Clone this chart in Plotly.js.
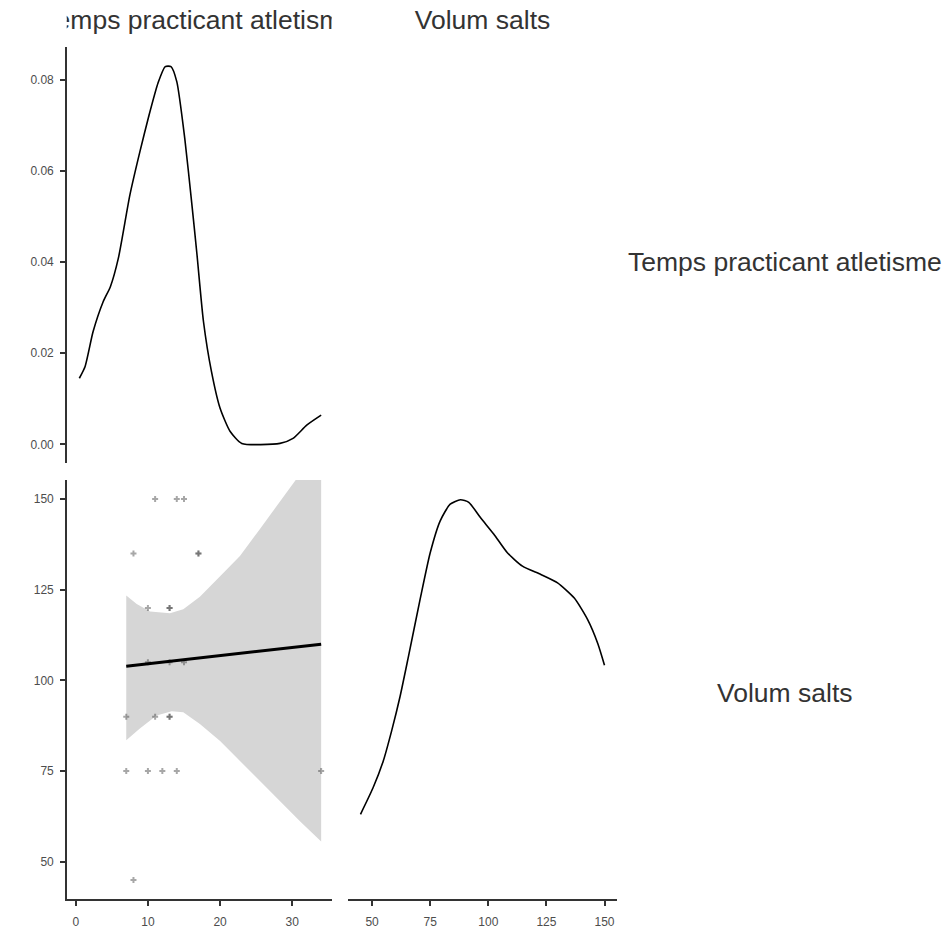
<!DOCTYPE html>
<html>
<head>
<meta charset="utf-8">
<script src="https://cdn.plot.ly/plotly-3.0.1.min.js"></script>
<style>
  html, body { margin: 0; padding: 0; background: #ffffff; }
  #chart { width: 945px; height: 939px; }
</style>
</head>
<body>
<div id="chart"></div>
<script>
// Variable names
const varNames = ['Temps practicant atletisme', 'Volum salts'];

// Tick labels
const timeTicks = [0, 10, 20, 30];
const volTicks = [50, 75, 100, 125, 150];
const densTicks = [0, 0.02, 0.04, 0.06, 0.08];
const densTickText = ['0.00', '0.02', '0.04', '0.06', '0.08'];

// Density of "Temps practicant atletisme" (density units)
const timeDensX = [0.5, 1.3, 2.4, 3.8, 4.8, 5.9, 7.5, 8.9, 10.1, 11.4, 12.4, 13.2, 14.0, 15.1, 16.1, 16.8, 17.7, 18.8, 20.0, 21.4, 23.0, 28.3, 30.1, 32.0, 34.0];
const timeDensY = [0.0145, 0.0171, 0.0247, 0.0313, 0.0346, 0.0408, 0.0547, 0.0643, 0.0719, 0.0793, 0.0829, 0.0829, 0.0796, 0.0672, 0.0525, 0.0416, 0.0269, 0.0160, 0.0079, 0.0028, 0.0002, 0.0002, 0.0013, 0.0042, 0.0064];

// Density of "Volum salts", drawn on the row's scale
const volDensX = [45, 50.4, 54.8, 58.4, 62.0, 65.6, 70.6, 75.0, 79.3, 83.6, 88.0, 91.6, 96.6, 102.4, 108.2, 114.7, 122.6, 129.8, 137.0, 142.8, 147.1, 150];
const volDensY = [63.1, 70.4, 77.8, 86.1, 95.5, 106.5, 122.2, 135.2, 144.0, 148.6, 149.8, 149.1, 144.9, 140.3, 135.2, 131.5, 129.2, 126.9, 122.7, 116.7, 110.2, 104.2];

// Observations
const obsTime = [11, 14, 15, 8, 17, 17, 10, 13, 13, 10, 13, 15, 7, 11, 13, 13, 7, 10, 12, 14, 34, 8];
const obsVol = [150, 150, 150, 135, 135, 135, 120, 120, 120, 105, 105, 105, 90, 90, 90, 90, 75, 75, 75, 75, 75, 45];

// Linear fit and its confidence band
const fitX = [7, 34];
const fitY = [103.9, 110.0];
const bandLowerX = [7, 8.8, 11.2, 13.3, 14.9, 17.2, 20.0, 22.75, 25.5, 28.3, 31.1, 34];
const bandLowerY = [83.5, 86.6, 90.3, 91.5, 91.2, 88.0, 83.3, 77.8, 72.2, 66.7, 61.1, 55.6];
const bandUpperX = [7, 8.45, 10.3, 13.06, 14.9, 17.2, 20.0, 22.75, 25.5, 27.8, 30.6, 34];
const bandUpperY = [123.4, 121.1, 119.0, 118.5, 119.6, 123.1, 128.7, 134.3, 141.7, 148.1, 155.6, 164.4];

// Panel ranges
const timeRange = [-1.25, 35.46];
const volRange = [39.75, 155.25];
const densRange = [-0.0041, 0.0872];

const W = 945, H = 939;
const px = v => v / W;
const py = v => 1 - v / H;

const colLeft = [px(66.7), px(331.7)];
const colRight = [px(348.3), px(616.7)];
const rowTop = [py(463), py(47)];
const rowBottom = [py(899), py(480)];

const font = 'Liberation Sans, Arial, sans-serif';
const tickFont = { family: font, size: 12, color: '#4d4d4d' };
const stripFont = { family: font, size: 26.5, color: '#333333' };
const axisCol = '#333333';

// Band polygon: upper edge left to right, lower edge right to left
const bandX = bandUpperX.concat(bandLowerX.slice().reverse());
const bandY = bandUpperY.concat(bandLowerY.slice().reverse());

const traces = [
  {
    x: timeDensX, y: timeDensY, xaxis: 'x', yaxis: 'y',
    type: 'scatter', mode: 'lines',
    line: { color: '#000000', width: 1.6, shape: 'spline', smoothing: 0.6 }
  },
  {
    x: bandX, y: bandY, xaxis: 'x2', yaxis: 'y2',
    type: 'scatter', mode: 'lines', fill: 'toself',
    fillcolor: '#d6d6d6', line: { width: 0, color: 'rgba(0,0,0,0)' }
  },
  {
    x: obsTime, y: obsVol, xaxis: 'x2', yaxis: 'y2',
    type: 'scatter', mode: 'markers',
    marker: { symbol: 'cross', size: 5, color: 'rgba(60,60,60,0.45)', line: { width: 0 } }
  },
  {
    x: fitX, y: fitY, xaxis: 'x2', yaxis: 'y2',
    type: 'scatter', mode: 'lines',
    line: { color: '#000000', width: 3 }
  },
  {
    x: volDensX, y: volDensY, xaxis: 'x3', yaxis: 'y3',
    type: 'scatter', mode: 'lines',
    line: { color: '#000000', width: 1.6, shape: 'spline', smoothing: 0.6 }
  },
  // Column headers, clipped to their column width
  {
    x: [0.5], y: [0.5], xaxis: 'x4', yaxis: 'y4',
    type: 'scatter', mode: 'text', text: [varNames[0]],
    textposition: 'middle center', cliponaxis: true, textfont: stripFont
  },
  {
    x: [0.5], y: [0.5], xaxis: 'x5', yaxis: 'y5',
    type: 'scatter', mode: 'text', text: [varNames[1]],
    textposition: 'middle center', cliponaxis: true, textfont: stripFont
  }
];

const hidden = {
  range: [0, 1], showgrid: false, zeroline: false, showline: false,
  showticklabels: false, ticks: '', fixedrange: true
};

const baseAxis = {
  showgrid: false, zeroline: false, fixedrange: true,
  linecolor: axisCol, linewidth: 1.5,
  ticks: 'outside', ticklen: 5, tickwidth: 2, tickcolor: axisCol,
  tickfont: tickFont, tickmode: 'array'
};

const layout = {
  width: W, height: H,
  margin: { l: 0, r: 0, t: 0, b: 0, pad: 0 },
  paper_bgcolor: '#ffffff', plot_bgcolor: 'rgba(0,0,0,0)',
  showlegend: false, hovermode: false,
  xaxis: Object.assign({}, baseAxis, {
    domain: colLeft, anchor: 'y', range: timeRange,
    showline: false, ticks: '', showticklabels: false, tickvals: timeTicks
  }),
  yaxis: Object.assign({}, baseAxis, {
    domain: rowTop, anchor: 'x', range: densRange,
    showline: true, tickvals: densTicks, ticktext: densTickText, ticklabelstandoff: 4
  }),
  xaxis2: Object.assign({}, baseAxis, {
    domain: colLeft, anchor: 'y2', range: timeRange,
    showline: true, tickvals: timeTicks, ticklabelstandoff: 6
  }),
  yaxis2: Object.assign({}, baseAxis, {
    domain: rowBottom, anchor: 'x2', range: volRange,
    showline: true, tickvals: volTicks, ticklabelstandoff: 4
  }),
  xaxis3: Object.assign({}, baseAxis, {
    domain: colRight, anchor: 'y3', range: volRange,
    showline: true, tickvals: volTicks, ticklabelstandoff: 6
  }),
  yaxis3: Object.assign({}, baseAxis, {
    domain: rowBottom, anchor: 'x3', range: volRange,
    showline: false, ticks: '', showticklabels: false, tickvals: volTicks
  }),
  xaxis4: Object.assign({}, hidden, { domain: colLeft, anchor: 'y4' }),
  yaxis4: Object.assign({}, hidden, { domain: [py(44), 1], anchor: 'x4' }),
  xaxis5: Object.assign({}, hidden, { domain: colRight, anchor: 'y5' }),
  yaxis5: Object.assign({}, hidden, { domain: [py(44), 1], anchor: 'x5' }),
  annotations: [
    {
      text: varNames[0], xref: 'paper', yref: 'paper',
      x: px(785), y: py(262), xanchor: 'center', yanchor: 'middle',
      showarrow: false, font: stripFont
    },
    {
      text: varNames[1], xref: 'paper', yref: 'paper',
      x: px(785), y: py(693), xanchor: 'center', yanchor: 'middle',
      showarrow: false, font: stripFont
    }
  ]
};

Plotly.newPlot('chart', traces, layout, { displayModeBar: false, staticPlot: true });
</script>
</body>
</html>
